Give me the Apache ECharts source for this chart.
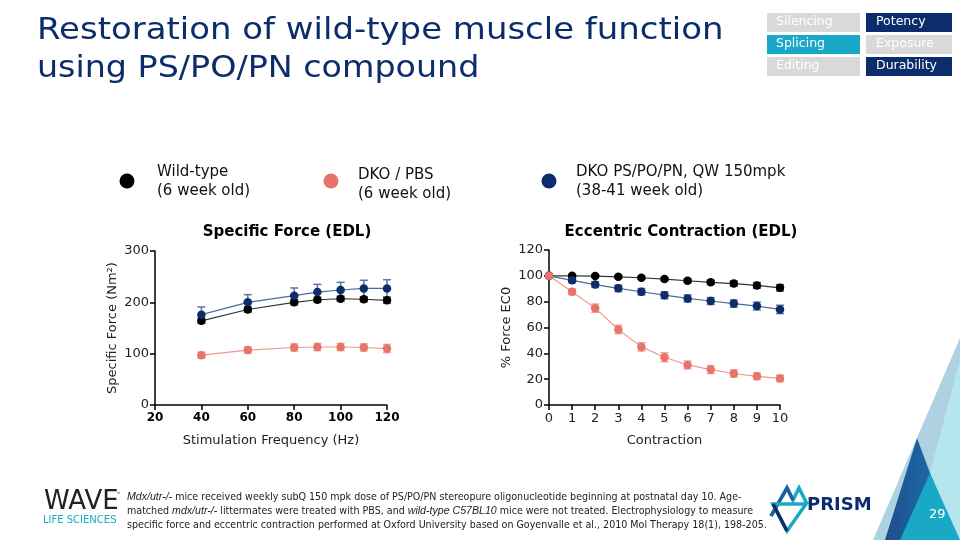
<!DOCTYPE html>
<html><head><meta charset="utf-8">
<script src="https://cdn.jsdelivr.net/npm/echarts@6/dist/echarts.min.js"></script>
<style>html,body{margin:0;padding:0;background:#fff}#c{width:960px;height:540px}</style>
</head><body><div id="c"></div>
<script>
// ---- data ----
const freq = [40, 60, 80, 90, 100, 110, 120];
const sfWT = [164, 186, 200, 205, 207, 206, 204];
const sfWTErr = [5, 5, 5, 5, 5, 5, 6];
const sfPBS = [97, 107, 112, 113, 113, 112, 110];
const sfPBSErr = [6, 6, 7, 7, 7, 7, 8];
const sfPS = [176, 200, 213, 220, 224, 227, 227];
const sfPSErr = [15, 15, 15, 15, 15, 16, 17];

const contraction = [0, 1, 2, 3, 4, 5, 6, 7, 8, 9, 10];
const ecWT = [100, 100, 99.8, 99.2, 98.5, 97.5, 96.2, 95, 94, 92.6, 90.7];
const ecWTErr = [0, 0.8, 1, 1, 1.2, 1.2, 1.5, 1.5, 2, 2.2, 2.5];
const ecPBS = [100, 87.6, 75, 58.5, 45, 37, 31, 27.4, 24.4, 22.2, 20.6];
const ecPBSErr = [0, 2.2, 3.2, 3.2, 3.2, 3.5, 3, 3, 2.8, 2.5, 2.5];
const ecPS = [100, 96.5, 93.2, 90.3, 87.7, 85, 82.5, 80.5, 78.5, 76.6, 74];
const ecPSErr = [0, 1.8, 2.2, 2.5, 2.5, 2.7, 2.7, 2.7, 2.8, 3, 3.2];

const seriesNames = ['Wild-type', 'DKO / PBS', 'DKO PS/PO/PN, QW 150mpk'];
const sfXTicks = [20, 40, 60, 80, 100, 120];
const sfYTicks = [0, 100, 200, 300];

const C_WT = '#000000', C_PBS = '#e8736a', C_PS = '#0d2c6c';
const C_WT_E = '#555555', C_PBS_E = '#f0a39c', C_PS_E = '#5a75a8';
const NAVY = '#0c2d6b';
const TEAL = '#19a9c6';
const FONT = '"DejaVu Sans", Verdana, sans-serif';

function zip(xs, ys, es) { return xs.map((x, i) => [x, ys[i], es[i]]); }

function errSeries(name, idx, data, color) {
  return {
    type: 'custom', name: name + ' err', xAxisIndex: idx, yAxisIndex: idx, z: 2,
    data: data, silent: true,
    renderItem: function (params, api) {
      const x = api.value(0), y = api.value(1), e = api.value(2);
      if (!e) return null;
      const t = api.coord([x, y + e]), b = api.coord([x, y - e]);
      const w = 4;
      return { type: 'group', children: [
        { type: 'line', shape: { x1: t[0], y1: t[1], x2: b[0], y2: b[1] }, style: { stroke: color, lineWidth: 1.5 } },
        { type: 'line', shape: { x1: t[0] - w, y1: t[1], x2: t[0] + w, y2: t[1] }, style: { stroke: color, lineWidth: 1.5 } },
        { type: 'line', shape: { x1: b[0] - w, y1: b[1], x2: b[0] + w, y2: b[1] }, style: { stroke: color, lineWidth: 1.5 } }
      ]};
    }
  };
}
function lineSeries(name, idx, xs, ys, color, lineColor) {
  return {
    type: 'line', name: name, xAxisIndex: idx, yAxisIndex: idx, z: 3,
    data: xs.map((x, i) => [x, ys[i]]),
    symbol: 'circle', symbolSize: 8.5,
    itemStyle: { color: color },
    lineStyle: { color: lineColor, width: 1.2 },
    animation: false
  };
}

const axisLine = { show: true, lineStyle: { color: '#000', width: 1.5 } };
const axisTick = { show: true, length: 5, lineStyle: { color: '#000', width: 1.5 } };

const chart = echarts.init(document.getElementById('c'));
const option = {
  animation: false,
  backgroundColor: '#fff',
  title: [
    { text: 'Specific Force (EDL)', left: 282, top: 220, textAlign: 'center',
      textStyle: { fontFamily: FONT, fontSize: 15, fontWeight: 'bold', color: '#000' } },
    { text: 'Eccentric Contraction (EDL)', left: 676, top: 220, textAlign: 'center',
      textStyle: { fontFamily: FONT, fontSize: 15, fontWeight: 'bold', color: '#000' } }
  ],
  grid: [
    { left: 155, right: 573, top: 251, bottom: 135 },
    { left: 549, right: 180, top: 250, bottom: 135 }
  ],
  xAxis: [
    { type: 'value', gridIndex: 0, min: sfXTicks[0], max: sfXTicks[sfXTicks.length - 1], interval: 20,
      name: 'Stimulation Frequency (Hz)', nameLocation: 'middle', nameGap: 29,
      nameTextStyle: { fontFamily: FONT, fontSize: 13, color: '#222' },
      axisLine: axisLine, axisTick: axisTick, splitLine: { show: false },
      axisLabel: { fontFamily: FONT, fontSize: 12, fontWeight: 'bold', color: '#000', margin: 7 } },
    { type: 'value', gridIndex: 1, min: 0, max: 10, interval: 1,
      name: 'Contraction', nameLocation: 'middle', nameGap: 29,
      nameTextStyle: { fontFamily: FONT, fontSize: 13, color: '#222' },
      axisLine: axisLine, axisTick: axisTick, splitLine: { show: false },
      axisLabel: { fontFamily: FONT, fontSize: 13, color: '#222', margin: 7 } }
  ],
  yAxis: [
    { type: 'value', gridIndex: 0, min: sfYTicks[0], max: sfYTicks[sfYTicks.length - 1], interval: 100,
      name: 'Specific Force (Nm²)', nameLocation: 'middle', nameGap: 36,
      nameTextStyle: { fontFamily: FONT, fontSize: 13, color: '#222' },
      axisLine: axisLine, axisTick: axisTick, splitLine: { show: false },
      axisLabel: { fontFamily: FONT, fontSize: 13, color: '#222', margin: 6 } },
    { type: 'value', gridIndex: 1, min: 0, max: 120, interval: 20,
      name: '% Force EC0', nameLocation: 'middle', nameGap: 36,
      nameTextStyle: { fontFamily: FONT, fontSize: 13, color: '#222' },
      axisLine: axisLine, axisTick: axisTick, splitLine: { show: false },
      axisLabel: { fontFamily: FONT, fontSize: 13, color: '#222', margin: 6 } }
  ],
  series: [
    errSeries(seriesNames[1], 0, zip(freq, sfPBS, sfPBSErr), C_PBS_E),
    errSeries(seriesNames[0], 0, zip(freq, sfWT, sfWTErr), C_WT_E),
    errSeries(seriesNames[2], 0, zip(freq, sfPS, sfPSErr), C_PS_E),
    lineSeries(seriesNames[1], 0, freq, sfPBS, C_PBS, '#ef9890'),
    lineSeries(seriesNames[0], 0, freq, sfWT, C_WT, '#333'),
    lineSeries(seriesNames[2], 0, freq, sfPS, C_PS, '#4d6a9c'),
    errSeries(seriesNames[1], 1, zip(contraction, ecPBS, ecPBSErr), C_PBS_E),
    errSeries(seriesNames[0], 1, zip(contraction, ecWT, ecWTErr), C_WT_E),
    errSeries(seriesNames[2], 1, zip(contraction, ecPS, ecPSErr), C_PS_E),
    lineSeries(seriesNames[0], 1, contraction, ecWT, C_WT, '#333'),
    lineSeries(seriesNames[2], 1, contraction, ecPS, C_PS, '#4d6a9c'),
    lineSeries(seriesNames[1], 1, contraction, ecPBS, C_PBS, '#ef9890')
  ],
  graphic: [
    // Slide title
    { type: 'text', x: 37, y: 15, scaleX: 1.095, style: { text: 'Restoration of wild-type muscle function', fontFamily: FONT, fontSize: 31, fill: NAVY } },
    { type: 'text', x: 37, y: 53, scaleX: 1.075, style: { text: 'using PS/PO/PN compound', fontFamily: FONT, fontSize: 31, fill: NAVY } },
    // Top-right boxes
    { type: 'rect', shape: { x: 767, y: 13, width: 93, height: 19 }, style: { fill: '#d9d9d9' } },
    { type: 'rect', shape: { x: 866, y: 13, width: 86, height: 19 }, style: { fill: NAVY } },
    { type: 'rect', shape: { x: 767, y: 35, width: 93, height: 19 }, style: { fill: TEAL } },
    { type: 'rect', shape: { x: 866, y: 35, width: 86, height: 19 }, style: { fill: '#d9d9d9' } },
    { type: 'rect', shape: { x: 767, y: 57, width: 93, height: 19 }, style: { fill: '#d9d9d9' } },
    { type: 'rect', shape: { x: 866, y: 57, width: 86, height: 19 }, style: { fill: NAVY } },
    { type: 'text', x: 776, y: 15, style: { text: 'Silencing', fontFamily: FONT, fontSize: 12.5, fill: '#fff' } },
    { type: 'text', x: 876, y: 15, style: { text: 'Potency', fontFamily: FONT, fontSize: 12.5, fill: '#fff' } },
    { type: 'text', x: 776, y: 37, style: { text: 'Splicing', fontFamily: FONT, fontSize: 12.5, fill: '#fff' } },
    { type: 'text', x: 876, y: 37, style: { text: 'Exposure', fontFamily: FONT, fontSize: 12.5, fill: '#fff' } },
    { type: 'text', x: 776, y: 59, style: { text: 'Editing', fontFamily: FONT, fontSize: 12.5, fill: '#fff' } },
    { type: 'text', x: 876, y: 59, style: { text: 'Durability', fontFamily: FONT, fontSize: 12.5, fill: '#fff' } },
    // Legend
    { type: 'circle', shape: { cx: 127, cy: 181, r: 7.5 }, style: { fill: C_WT } },
    { type: 'circle', shape: { cx: 331, cy: 181, r: 7.5 }, style: { fill: C_PBS } },
    { type: 'circle', shape: { cx: 549, cy: 181, r: 7.5 }, style: { fill: C_PS } },
    { type: 'text', x: 157, y: 163, style: { text: seriesNames[0] + '\n(6 week old)', fontFamily: FONT, fontSize: 15, lineHeight: 19, fill: '#111' } },
    { type: 'text', x: 358, y: 166, style: { text: seriesNames[1] + '\n(6 week old)', fontFamily: FONT, fontSize: 15, lineHeight: 19, fill: '#111' } },
    { type: 'text', x: 576, y: 163, style: { text: seriesNames[2] + '\n(38-41 week old)', fontFamily: FONT, fontSize: 15, lineHeight: 19, fill: '#111' } },
    // Footnote
    { type: 'text', x: 127, y: 490, style: {
      text: '{i|Mdx/utr-/-} mice received weekly subQ 150 mpk dose of PS/PO/PN stereopure oligonucleotide beginning at postnatal day 10. Age-\nmatched {i|mdx/utr-/-} littermates were treated with PBS, and {i|wild-type C57BL10} mice were not treated. Electrophysiology to measure\nspecific force and eccentric contraction performed at Oxford University based on Goyenvalle et al., 2010 Mol Therapy 18(1), 198-205.',
      fontFamily: '"Liberation Sans Narrow", "DejaVu Sans Condensed", sans-serif', fontSize: 10.6, lineHeight: 14, fill: '#222',
      rich: { i: { fontStyle: 'italic', fontFamily: '"Liberation Sans Narrow", sans-serif', fontSize: 10.6, fill: '#222' } } } },
    // WAVE logo
    { type: 'text', x: 44, y: 489, style: { text: 'WAVE', fontFamily: FONT, fontSize: 26, fill: '#222' } },
    { type: 'text', x: 116, y: 492, style: { text: '™', fontFamily: FONT, fontSize: 5, fill: '#222' } },
    { type: 'text', x: 43, y: 515, style: { text: 'LIFE SCIENCES', fontFamily: FONT, fontSize: 10, fill: TEAL } },
    // PRISM logo
    { type: 'polyline', shape: { points: [[771, 516], [787, 488], [793, 500], [799, 488], [807, 504]] }, style: { fill: 'none', stroke: TEAL, lineWidth: 3.5 } },
    { type: 'polyline', shape: { points: [[771, 516], [787, 488], [793, 500]] }, style: { fill: 'none', stroke: '#1f5f9e', lineWidth: 3.5 } },
    { type: 'polygon', shape: { points: [[773, 504], [806, 504], [787, 531]] }, style: { fill: 'none', stroke: TEAL, lineWidth: 3.5 } },
    { type: 'polyline', shape: { points: [[773, 504], [787, 531]] }, style: { fill: 'none', stroke: NAVY, lineWidth: 3.5 } },
    { type: 'text', x: 807, y: 496, style: { text: 'PRISM', fontFamily: FONT, fontSize: 18, fontWeight: 'bold', fill: NAVY } },
    { type: 'text', x: 867, y: 508, style: { text: '™', fontFamily: FONT, fontSize: 4, fill: NAVY } },
    // Bottom-right triangles
    { type: 'polygon', shape: { points: [[960, 338], [960, 540], [873, 540]] }, style: { fill: '#aed2e2' } },
    { type: 'polygon', shape: { points: [[960, 360], [960, 540], [912, 540]] }, style: { fill: '#b5e5ef' } },
    { type: 'polygon', shape: { points: [[917, 438], [885, 540], [955, 540]] }, style: { fill: new echarts.graphic.LinearGradient(0, 0, 1, 0, [{ offset: 0, color: '#1f4d8f' }, { offset: 1, color: '#1b78b0' }]) } },
    { type: 'polygon', shape: { points: [[930, 473], [900, 540], [960, 540]] }, style: { fill: TEAL } },
    { type: 'text', x: 929, y: 508, style: { text: '29', fontFamily: FONT, fontSize: 13, fill: '#fff' } }
  ]
};
chart.setOption(option);
</script></body></html>
